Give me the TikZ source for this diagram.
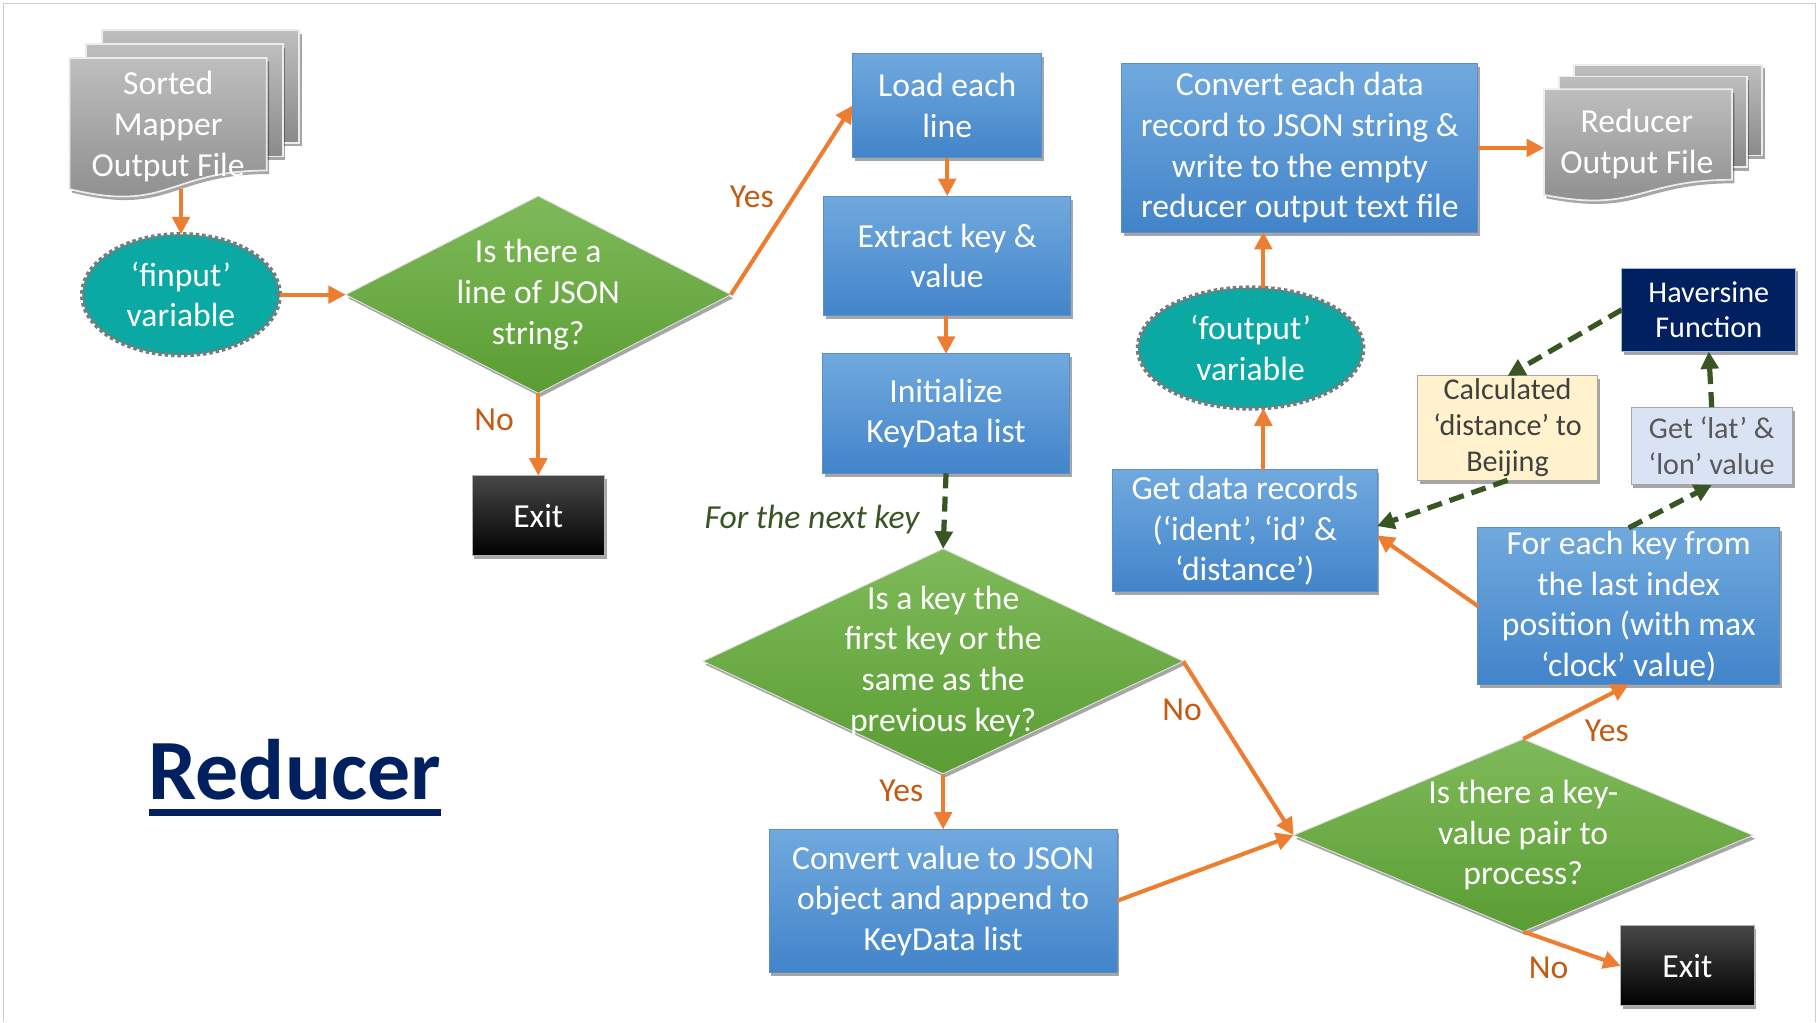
\documentclass[tikz,border=0pt]{standalone}
\usepackage{fontspec}
\setmainfont{Carlito}
\usetikzlibrary{shapes.geometric,arrows.meta,shadows,calc}
\definecolor{orng}{HTML}{ED7D31}
\definecolor{lblc}{HTML}{C55A11}
\definecolor{dgreen}{HTML}{375623}
\definecolor{navy}{HTML}{002060}
\definecolor{teal2}{HTML}{0AA9A4}
\definecolor{dotg}{HTML}{7A7A7A}
\definecolor{bluetop}{HTML}{70A9DE}
\definecolor{bluebot}{HTML}{4284CA}
\definecolor{blueedge}{HTML}{5A8FC8}
\definecolor{greentop}{HTML}{7FBA5A}
\definecolor{greenbot}{HTML}{5A9D33}
\definecolor{doctop}{HTML}{BEBEBE}
\definecolor{docbot}{HTML}{8A8A8A}
\definecolor{calcfill}{HTML}{FFF2CC}
\definecolor{latfill}{HTML}{DAE3F3}
\definecolor{frameg}{HTML}{CCCCCC}
\newcommand\fbig{\fontsize{29}{35}\selectfont}
\newcommand\fsml{\fontsize{26}{31}\selectfont}
\newcommand\flbl{\fontsize{29}{31}\selectfont}
\newcommand\fttl{\fontsize{74}{80}\selectfont\bfseries}
\begin{document}
\begin{tikzpicture}[x=1pt,y=-1pt,
  every node/.style={inner sep=0pt,outer sep=0pt},
  shd/.style={drop shadow={shadow xshift=2pt,shadow yshift=-3pt,opacity=0.35,fill=black}},
  bluebox/.style={rectangle,draw=blueedge,line width=0.8pt,top color=bluetop,bottom color=bluebot,shd,text=white,align=center,font=\fbig},
  exitbox/.style={rectangle,draw=black!30,line width=0.8pt,top color=black!72,middle color=black,bottom color=black,shd,text=white,font=\fbig},
  dia/.style={diamond,draw=white!75!gray,line width=0.8pt,top color=greentop,bottom color=greenbot,shd},
  dtxt/.style={text=white,align=center,font=\fbig},
  var/.style={ellipse,fill=teal2,draw=dotg,line width=4pt,dash pattern=on 3pt off 2.5pt,text=white,align=center,font=\fbig},
  oarr/.style={draw=orng,line width=3.5pt,-{Triangle[length=15pt,width=15pt]}},
  garr/.style={draw=dgreen,line width=4.5pt,dash pattern=on 13pt off 7pt,-{Triangle[length=15pt,width=15pt]}},
  lbl/.style={text=lblc,font=\flbl},
  doc/.style={draw=white!85!gray,line width=1.5pt,top color=doctop,bottom color=docbot,shd},
  doctxt/.style={text=white,align=center,font=\fbig},
  framel/.style={draw=frameg,line width=1.5pt},
  ]
\useasboundingbox (0,0) rectangle (1568,881);
\fill[white] (0,0) rectangle (1568,881);
\draw[framel] (3,881) -- (3,3) -- (1565,3) -- (1565,881);

% Sorted Mapper Output File
\path[doc] (88,26) rectangle (258,123);
\path[doc] (74,38) rectangle (244,135);
\path[doc] (60,50) -- (230,50) -- (230,147) .. controls (145,147) and (145,184) .. (60,163) -- cycle;
\node[doctxt] (smo) at (145,109) {Sorted\\Mapper\\Output File};
\coordinate (smobot) at (156,163);

% finput
\node[var,minimum width=170,minimum height=104] (fin) at (156,254) {‘finput’\\variable};
\draw[oarr] (smobot) -- (fin.north);

% diamond 1
\node[dia,minimum width=332,minimum height=170] (d1) at (464,254) {};
\node[dtxt] (d1t) at (d1.center) {Is there a\\line of JSON\\string?};
\draw[oarr] (fin.east) -- (d1.west);

\node[exitbox,minimum width=114,minimum height=69] (ex1) at (464,444.5) {Exit};
\draw[oarr] (d1.south) -- (ex1.north);
\node[lbl] (no1) at (426,362) {No};

% left column
\node[bluebox,minimum width=163,minimum height=90] (load) at (816.5,91) {Load each\\line};
\draw[oarr] (d1.east) -- (load.west);
\node[lbl] (yes1) at (648,170) {Yes};
\node[bluebox,minimum width=213,minimum height=103] (extr) at (816.5,220.5) {Extract key \&\\value};
\node[bluebox,minimum width=213,minimum height=103] (init) at (815.5,356.5) {Initialize\\KeyData list};
\draw[oarr] (load.south) -- (extr.north);
\draw[oarr] (extr.south -| init.north) -- (init.north);

% diamond 2
\node[dia,minimum width=414,minimum height=194] (d2) at (813,570) {};
\node[dtxt] (d2t) at (d2.center) {Is a key the\\first key or the\\same as the\\previous key?};
\draw[garr] (init.south) -- (d2.north);
\node[text=dgreen,font=\flbl\itshape] (nextkey) at (700,448) {For the next key};

\node[bluebox,minimum width=300,minimum height=123] (conv) at (813,776.5) {Convert value to JSON\\object and append to\\KeyData list};
\draw[oarr] (d2.south) -- (conv.north);
\node[lbl] (yes2) at (777,682) {Yes};

% diamond 3
\node[dia,minimum width=396,minimum height=166] (d3) at (1313,720) {};
\node[dtxt] (d3t) at (d3.center) {Is there a key-\\value pair to\\process?};
\draw[oarr] (d2.east) -- (d3.west);
\node[lbl] (no2) at (1019,612) {No};
\draw[oarr] (conv.east) -- (d3.west);

\node[exitbox,minimum width=115,minimum height=69] (ex2) at (1454.5,832.5) {Exit};
\draw[oarr] (d3.south) -- (ex2.west);
\node[lbl] (no3) at (1335,834) {No};

\node[bluebox,minimum width=260,minimum height=135] (fore) at (1404,522.5) {For each key from\\the last index\\position (with max\\‘clock’ value)};
\draw[oarr] (d3.north) -- (fore.south);
\node[lbl] (yes3) at (1385,630) {Yes};

% right column
\node[bluebox,minimum width=228,minimum height=105] (getd) at (1073,457.5) {Get data records\\(‘ident’, ‘id’ \&\\‘distance’)};
\draw[oarr] (fore.west) -- ($(getd.east)+(0,4)$);

\node[var,minimum width=194,minimum height=104] (fout) at (1078,300) {‘foutput’\\variable};
\coordinate (colx) at (1089,0);
\draw[oarr] (getd.north -| colx) -- (fout.south -| colx);

\node[bluebox,minimum width=307,minimum height=145] (conv2) at (1120.5,127.5) {Convert each data\\record to JSON string \&\\write to the empty\\reducer output text file};
\draw[oarr] (fout.north -| colx) -- (conv2.south -| colx);

% Reducer Output File
\path[doc] (1357,56) rectangle (1519,134);
\path[doc] (1344,66) rectangle (1506,144);
\path[doc] (1331,77) -- (1493,77) -- (1493,155) .. controls (1412,155) and (1412,184) .. (1331,168) -- cycle;
\node[doctxt] (rof) at (1411,124) {Reducer\\Output File};
\coordinate (rofin) at (1331,127.5);
\draw[oarr] (conv2.east) -- (rofin);

% Haversine cluster
\node[rectangle,fill=navy,draw=blueedge!60,line width=0.8pt,shd,text=white,align=center,font=\fsml,minimum width=150,minimum height=72] (hav) at (1473,267) {Haversine\\Function};
\node[rectangle,fill=calcfill,draw=black!35,line width=0.8pt,shd,text=black!75,align=center,font=\fsml,minimum width=155,minimum height=90] (calc) at (1299.5,369) {Calculated\\‘distance’ to\\Beijing};
\node[rectangle,fill=latfill,draw=black!35,line width=0.8pt,shd,text=black!65,align=center,font=\fsml,minimum width=139,minimum height=67] (glat) at (1475.5,384.5) {Get ‘lat’ \&\\‘lon’ value};
\draw[garr] (fore.north) -- (glat.south);
\draw[garr] (glat.north) -- (hav.south);
\draw[garr] (hav.west) -- (calc.north);
\draw[garr] (calc.south) -- ($(getd.east)+(0,-4)$);

% title
\node[text=navy,font=\fttl,anchor=base] (ttl) at (254,689) {Reducer};
\draw[navy,line width=6pt] ($(ttl.base west)+(0,11)$) -- ($(ttl.base east)+(0,11)$);
\end{tikzpicture}
\end{document}
